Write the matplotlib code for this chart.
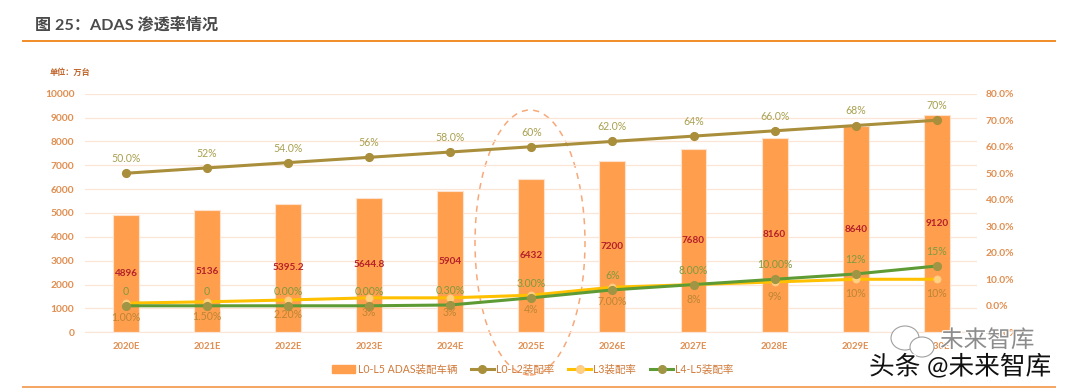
import matplotlib
matplotlib.use("Agg")
import matplotlib.pyplot as plt
from matplotlib.patches import Ellipse
import matplotlib.patheffects as pe
from matplotlib.lines import Line2D
from matplotlib.patches import Patch

plt.rcParams['font.family'] = ['Lato', 'Noto Sans CJK SC', 'DejaVu Sans']

years = ['2020E','2021E','2022E','2023E','2024E','2025E','2026E','2027E','2028E','2029E','2030E']
vehicles = [4896,5136,5395.2,5644.8,5904,6432,7200,7680,8160,8640,9120]
vehicle_labels = ['4896','5136','5395.2','5644.8','5904','6432','7200','7680','8160','8640','9120']
l0l2 = [50,52,54,56,58,60,62,64,66,68,70]
l0l2_labels = ['50.0%','52%','54.0%','56%','58.0%','60%','62.0%','64%','66.0%','68%','70%']
l3 = [1,1.5,2.2,3,3,4,7,8,9,10,10]
l3_labels = ['1.00%','1.50%','2.20%','3%','3%','4%','7.00%','8%','9%','10%','10%']
l45 = [0,0,0,0,0.3,3,6,8,10,12,15]
l45_labels = ['0','0','0.00%','0.00%','0.30%','3.00%','6%','8.00%','10.00%','12%','15%']
left_ticks = list(range(0,10001,1000))
right_ticks = list(range(-10,81,10))

W,H = 1080,388
fig = plt.figure(figsize=(W/100,H/100),dpi=100)
fx = lambda x: x/W
fy = lambda y: 1-y/H

ax = fig.add_axes([fx(85.4),fy(332.3),(977.3-85.4)/W,(332.3-93.7)/H])
ax2 = ax.twinx()
ax.set_zorder(1); ax2.set_zorder(2); ax.patch.set_visible(False)
xs = list(range(len(years)))
ORANGE='#E08E50'
ax.set_axisbelow(True)
ax.grid(axis='y',color='#FBE5D6',lw=0.9)
ax.bar(xs,vehicles,width=0.32,color='#FF9F4D',edgecolor='#FDE3CF',lw=0.8,zorder=2)
ax.set_xlim(-0.5,10.5); ax.set_ylim(0,10000)
ax.set_yticks(left_ticks); ax.set_xticks(xs); ax.set_xticklabels(years)
ax.tick_params(axis='both',length=0,labelsize=6.8,labelcolor=ORANGE,pad=7)
ax.tick_params(axis='y',labelsize=7.4,pad=8)
for s in ax.spines.values(): s.set_visible(False)
for s in ax2.spines.values(): s.set_visible(False)
ax.spines['bottom'].set_visible(True); ax.spines['bottom'].set_color('#FBE5D6')

ax2.set_ylim(-10,80); ax2.set_yticks(right_ticks)
ax2.set_yticklabels([f'{t:.1f}%' for t in right_ticks])
ax2.tick_params(axis='y',length=0,labelsize=7.4,labelcolor=ORANGE,pad=6)
for t in ax.get_xticklabels()+ax.get_yticklabels()+ax2.get_yticklabels():
    t.set_fontweight('bold')

ax2.plot(xs,l3,color='#FFC000',lw=2.2,marker='o',ms=5.2,mfc='#FFD27F',mec='#FFC98A',mew=0.5,zorder=3)
ax2.plot(xs,l0l2,color='#A98E3B',lw=2.2,marker='o',ms=5.6,mfc='#A98E3B',mec='#A98E3B',zorder=4)
ax2.plot(xs,l45,color='#5E9B35',lw=2.2,marker='o',ms=5.6,mfc='#A09544',mec='#A09544',zorder=5)

for x,v,t in zip(xs,vehicles,vehicle_labels):
    ax.text(x,v/2,t,ha='center',va='center',fontsize=7.2,color='#B5202A',fontweight='bold',zorder=6)
for x,v,t in zip(xs,l0l2,l0l2_labels):
    ax2.annotate(t,(x,v),xytext=(0,6.5),textcoords='offset points',ha='center',va='bottom',fontsize=7.6,color='#A9A050',zorder=6)
for x,v,t in zip(xs,l45,l45_labels):
    ax2.annotate(t,(x,v),xytext=(0,6.5),textcoords='offset points',ha='center',va='bottom',fontsize=7.6,color='#7F9A3E',zorder=6)
for x,v,t in zip(xs,l3,l3_labels):
    ax2.annotate(t,(x,v),xytext=(0,-6.5),textcoords='offset points',ha='center',va='top',fontsize=7.6,color='#BC8535',zorder=6)

# page furniture
fig.text(fx(35),fy(25),'图 25：ADAS 渗透率情况',fontsize=11.6,fontweight='bold',color='#4A4A4A',va='center',ha='left')
fig.add_artist(Line2D([fx(23),fx(1055)],[fy(41),fy(41)],color='#F28C28',lw=1.4))
fig.add_artist(Line2D([fx(23),fx(1055)],[fy(387),fy(387)],color='#F4A460',lw=1.4))
fig.text(fx(50),fy(72),'单位：万台',fontsize=5.9,fontweight='bold',color='#C0642A',va='center',ha='left')
fig.add_artist(Ellipse((fx(530),fy(242.5)),110/W,265/H,transform=fig.transFigure,fill=False,ec='#F8A878',lw=1.1,ls=(0,(4,3.5))))

leg = fig.legend(handles=[Patch(color='#FF9F4D',label='L0-L5 ADAS装配车辆'),
    Line2D([],[],color='#A98E3B',lw=2.2,marker='o',ms=5.5,label='L0-L2装配率'),
    Line2D([],[],color='#FFC000',lw=2.2,marker='o',ms=5.5,mfc='#FFD27F',mec='#FFC98A',label='L3装配率'),
    Line2D([],[],color='#5E9B35',lw=2.2,marker='o',ms=5.5,mfc='#A09544',mec='#A09544',label='L4-L5装配率')],
    ncols=4,loc='center',bbox_to_anchor=(fx(533),fy(369)),frameon=False,fontsize=7.6,labelcolor='#D07A3A',
    columnspacing=1.3,handlelength=2.2,handletextpad=0.2)

# watermark
fig.add_artist(Ellipse((fx(905),fy(338)),28/W,24/H,transform=fig.transFigure,fc='white',ec='#A0A0A0',lw=0.8,zorder=7))
fig.add_artist(Ellipse((fx(922),fy(347)),24/W,20/H,transform=fig.transFigure,fc='white',ec='#A0A0A0',lw=0.8,zorder=7))
fig.text(fx(940),fy(340),'未来智库',fontsize=17,color='#8C8C8C',va='center',ha='left',
         path_effects=[pe.withStroke(linewidth=1.5,foreground='white')],zorder=8)
fig.text(fx(869),fy(367),'头条 @未来智库',fontsize=18.5,color='#111111',va='center',ha='left',
         path_effects=[pe.withStroke(linewidth=2,foreground='white')],zorder=9)
fig.savefig('out.png',dpi=100)
